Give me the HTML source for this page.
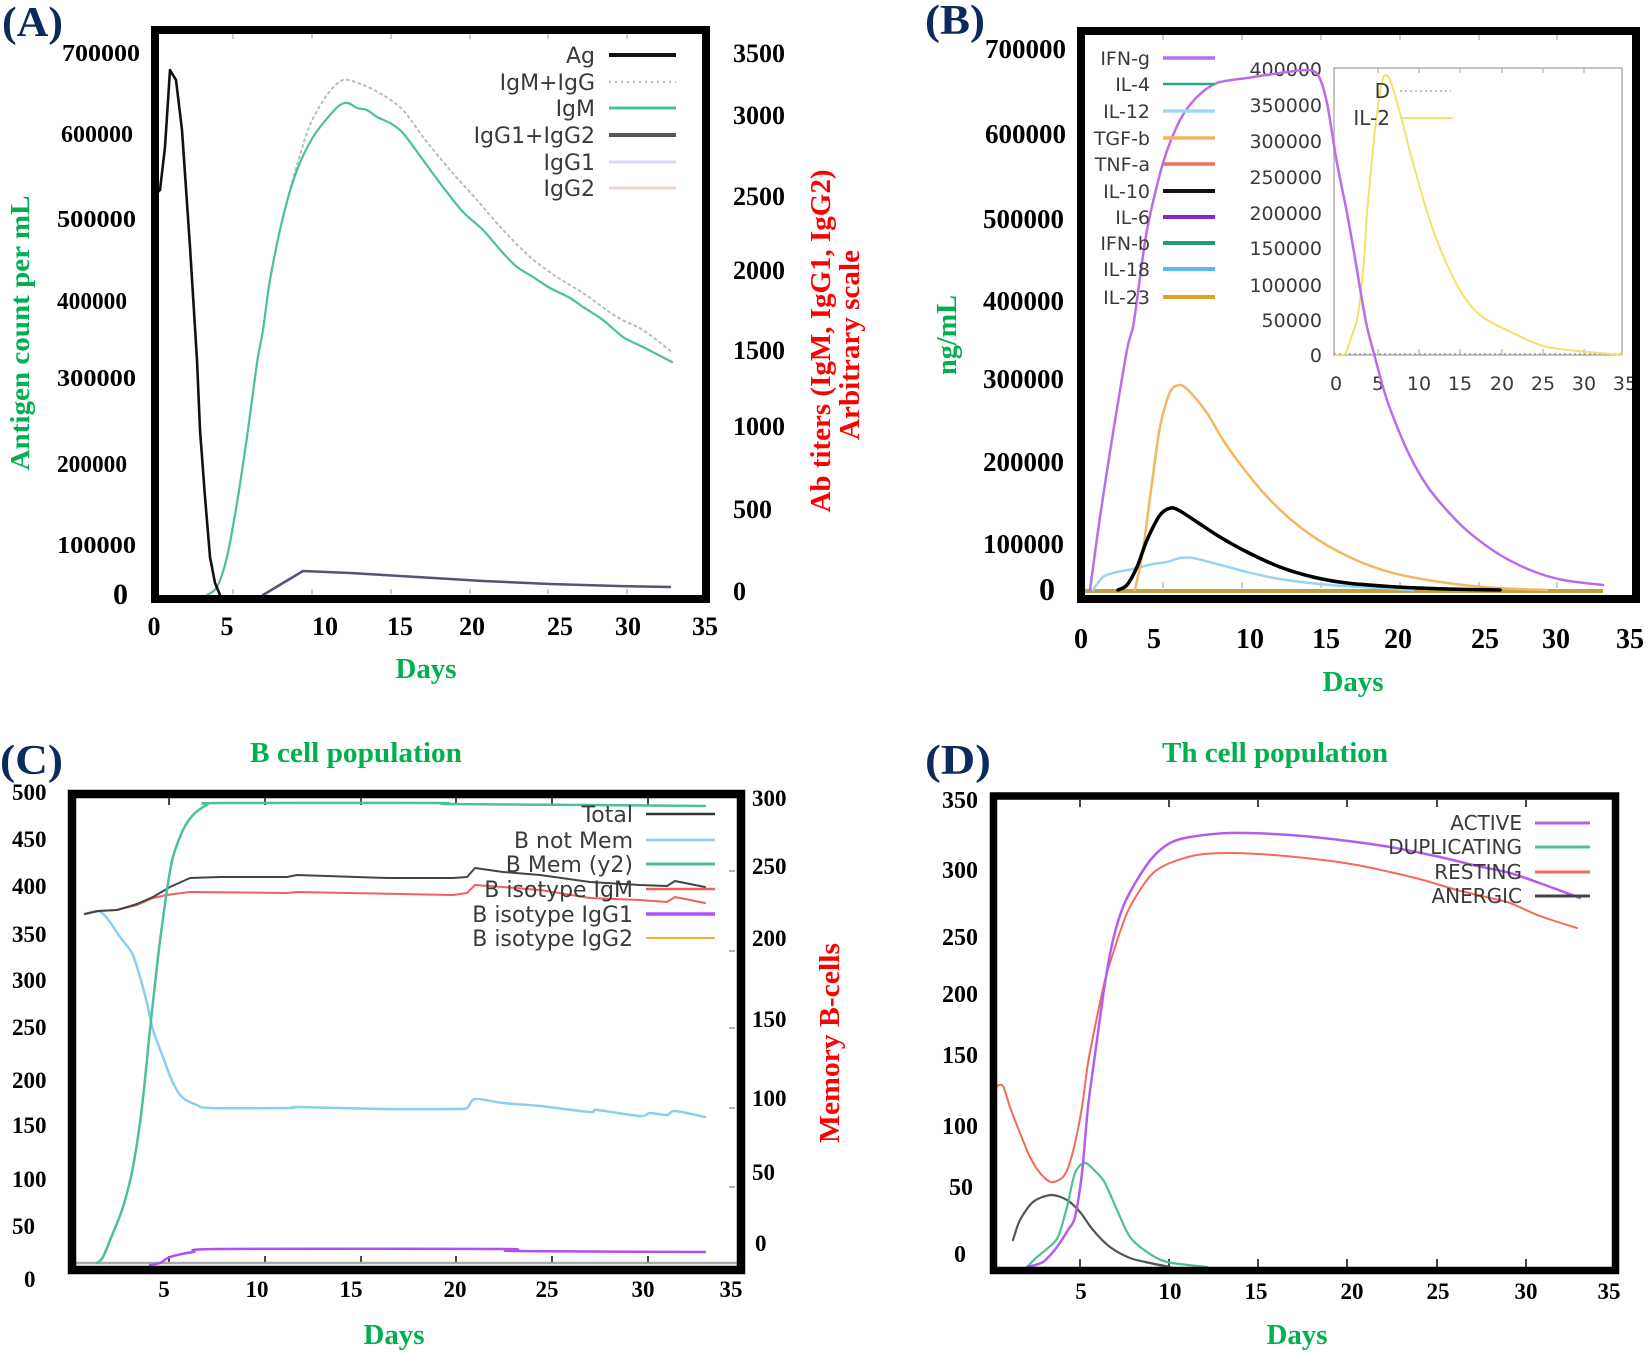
<!DOCTYPE html>
<html><head><meta charset="utf-8"><style>
html,body{margin:0;padding:0;background:#fff;}
svg{display:block;}
.tk{font-family:"Liberation Serif",serif;font-weight:bold;fill:#000;}
.lg{font-family:"DejaVu Sans","Liberation Sans",sans-serif;fill:#3a3a3a;}
.ti{font-family:"Liberation Serif",serif;font-weight:bold;}
.g{fill:#00b050;} .r{fill:#ff0000;} .n{fill:#0d2a5e;}
.c{fill:none;stroke-linejoin:round;stroke-linecap:round;}
</style></head><body>
<svg id="s" width="1650" height="1353" viewBox="0 0 1650 1353" xmlns="http://www.w3.org/2000/svg">
<rect width="1650" height="1353" fill="#fff"/>

<!-- ================= PANEL A ================= -->
<text class="ti n" x="2" y="36" font-size="42" textLength="61" lengthAdjust="spacingAndGlyphs">(A)</text>
<g stroke="#bbb" stroke-width="1.5">
<line x1="233" y1="34" x2="233" y2="39"/><line x1="312" y1="34" x2="312" y2="39"/><line x1="391" y1="34" x2="391" y2="39"/><line x1="470" y1="34" x2="470" y2="39"/><line x1="548" y1="34" x2="548" y2="39"/><line x1="627" y1="34" x2="627" y2="39"/>
<line x1="233" y1="589" x2="233" y2="594"/><line x1="312" y1="589" x2="312" y2="594"/><line x1="391" y1="589" x2="391" y2="594"/><line x1="470" y1="589" x2="470" y2="594"/><line x1="548" y1="589" x2="548" y2="594"/><line x1="627" y1="589" x2="627" y2="594"/>
</g>
<!-- A curves -->
<polyline class="c sm" stroke="#bbbbbb" stroke-width="2" stroke-dasharray="2,4" points="207,595 217,587 227,557 237,503 247,437 257,363 263,330 270,280 283,217 297,165 310,125 327,95 343,80 363,85 383,95 403,110 423,137 450,170 477,200 503,230 530,257 557,277 583,293 617,317 643,330 672,352"/>
<polyline class="c sm" stroke="#4cbf9b" stroke-width="2.2" points="207,595 217,587 227,557 237,503 247,437 257,363 263,330 270,280 283,217 297,170 313,137 330,115 340,105 348,103 357,108 367,110 377,117 390,123 403,133 423,160 443,187 463,212 483,230 503,253 517,267 533,277 550,288 570,298 583,307 603,320 623,337 643,347 672,362"/>
<polyline class="c" stroke="#5d5070" stroke-width="2.5" points="263,595 303,571 350,573 417,577 483,581 550,584 617,586 670,587"/>
<polyline class="c" stroke="#111" stroke-width="2.6" points="158,192 160,190 165,147 170,70 176,80 182,130 190,247 197,360 200,430 205,497 210,557 215,583 220,595"/>
<!-- A legend -->
<g class="lg" font-size="22" text-anchor="end">
<text x="595" y="63">Ag</text><text x="595" y="90">IgM+IgG</text><text x="595" y="116">IgM</text><text x="595" y="143">IgG1+IgG2</text><text x="595" y="170">IgG1</text><text x="595" y="196">IgG2</text>
</g>
<line x1="609" y1="55" x2="676" y2="55" stroke="#111" stroke-width="4"/>
<line x1="609" y1="82" x2="676" y2="82" stroke="#bbb" stroke-width="2" stroke-dasharray="2,4"/>
<line x1="609" y1="108" x2="676" y2="108" stroke="#4cbf9b" stroke-width="3"/>
<line x1="609" y1="135" x2="676" y2="135" stroke="#555" stroke-width="4"/>
<line x1="609" y1="162" x2="676" y2="162" stroke="#e2d2f8" stroke-width="3"/>
<line x1="609" y1="188" x2="676" y2="188" stroke="#f8d2d2" stroke-width="3"/>
<rect x="155" y="30" width="551" height="569" fill="none" stroke="#000" stroke-width="8"/>
<!-- A ticks labels -->
<g class="tk" font-size="24">
<text x="62" y="61" textLength="78" lengthAdjust="spacingAndGlyphs">700000</text><text x="61" y="142" textLength="72" lengthAdjust="spacingAndGlyphs">600000</text><text x="57" y="227" textLength="79" lengthAdjust="spacingAndGlyphs">500000</text><text x="57" y="309" textLength="70" lengthAdjust="spacingAndGlyphs">400000</text><text x="57" y="386" textLength="79" lengthAdjust="spacingAndGlyphs">300000</text><text x="57" y="472" textLength="70" lengthAdjust="spacingAndGlyphs">200000</text><text x="57" y="553" textLength="79" lengthAdjust="spacingAndGlyphs">100000</text>
</g>
<text class="tk" x="113" y="604" font-size="30">0</text>
<g class="tk" font-size="26">
<text x="733" y="62">3500</text><text x="733" y="124">3000</text><text x="733" y="205">2500</text><text x="733" y="279">2000</text><text x="733" y="359">1500</text><text x="733" y="435">1000</text><text x="733" y="518">500</text><text x="733" y="600">0</text>
</g>
<g class="tk" font-size="26" text-anchor="middle">
<text x="154" y="635">0</text><text x="227" y="635">5</text><text x="325" y="635">10</text><text x="400" y="635">15</text><text x="472" y="635">20</text><text x="560" y="635">25</text><text x="628" y="635">30</text><text x="705" y="635">35</text>
</g>
<text class="ti g" x="426" y="678" font-size="28" text-anchor="middle" textLength="61" lengthAdjust="spacingAndGlyphs">Days</text>
<text class="ti g" transform="translate(29,333) rotate(-90)" font-size="27" text-anchor="middle" textLength="275" lengthAdjust="spacingAndGlyphs">Antigen count per mL</text>
<text class="ti r" transform="translate(830,341) rotate(-90)" font-size="28" text-anchor="middle" textLength="343" lengthAdjust="spacingAndGlyphs">Ab titers (IgM, IgG1, IgG2)</text>
<text class="ti r" transform="translate(859,345) rotate(-90)" font-size="28" text-anchor="middle" textLength="190" lengthAdjust="spacingAndGlyphs">Arbitrary scale</text>

<!-- ================= PANEL B ================= -->
<text class="ti n" x="925" y="34" font-size="42" textLength="60" lengthAdjust="spacingAndGlyphs">(B)</text>
<g stroke="#bbb" stroke-width="1.5">
<line x1="1163" y1="35" x2="1163" y2="40"/><line x1="1242" y1="35" x2="1242" y2="40"/><line x1="1321" y1="35" x2="1321" y2="40"/><line x1="1400" y1="35" x2="1400" y2="40"/><line x1="1479" y1="35" x2="1479" y2="40"/><line x1="1557" y1="35" x2="1557" y2="40"/>
<line x1="1163" y1="582" x2="1163" y2="588"/><line x1="1242" y1="582" x2="1242" y2="588"/><line x1="1321" y1="582" x2="1321" y2="588"/><line x1="1400" y1="582" x2="1400" y2="588"/><line x1="1479" y1="582" x2="1479" y2="588"/><line x1="1557" y1="582" x2="1557" y2="588"/>
</g>
<!-- inset -->
<rect x="1334" y="68" width="288" height="287" fill="none" stroke="#b0b0b0" stroke-width="1.5"/>
<line x1="1334" y1="354" x2="1622" y2="354" stroke="#999" stroke-width="1.5" stroke-dasharray="2,3"/>
<g stroke="#b0b0b0" stroke-width="1.2">
<line x1="1378" y1="68" x2="1378" y2="73"/><line x1="1419" y1="68" x2="1419" y2="73"/><line x1="1460" y1="68" x2="1460" y2="73"/><line x1="1502" y1="68" x2="1502" y2="73"/><line x1="1543" y1="68" x2="1543" y2="73"/><line x1="1584" y1="68" x2="1584" y2="73"/>
<line x1="1378" y1="349" x2="1378" y2="355"/><line x1="1419" y1="349" x2="1419" y2="355"/><line x1="1460" y1="349" x2="1460" y2="355"/><line x1="1502" y1="349" x2="1502" y2="355"/><line x1="1543" y1="349" x2="1543" y2="355"/><line x1="1584" y1="349" x2="1584" y2="355"/>
</g>
<polyline class="c sm" stroke="#f2e26a" stroke-width="2" points="1336,355 1345,354 1352,335 1357,320 1360,300 1364,260 1367,213 1371,170 1375,130 1380,92 1384,76 1390,80 1400,113 1413,163 1433,230 1457,285 1480,315 1513,333 1547,347 1600,353 1622,355"/>
<g class="lg" font-size="19" text-anchor="end" fill="#444">
<text x="1322" y="76">400000</text><text x="1322" y="112">350000</text><text x="1322" y="148">300000</text><text x="1322" y="184">250000</text><text x="1322" y="220">200000</text><text x="1322" y="255">150000</text><text x="1322" y="292">100000</text><text x="1322" y="327">50000</text><text x="1322" y="362">0</text>
</g>
<g class="lg" font-size="19" text-anchor="middle" fill="#444">
<text x="1336" y="390">0</text><text x="1378" y="390">5</text><text x="1419" y="390">10</text><text x="1460" y="390">15</text><text x="1502" y="390">20</text><text x="1543" y="390">25</text><text x="1584" y="390">30</text><text x="1625" y="390">35</text>
</g>
<text class="lg" x="1390" y="98" font-size="20" text-anchor="end">D</text>
<text class="lg" x="1390" y="125" font-size="20" text-anchor="end">IL-2</text>
<line x1="1400" y1="91" x2="1451" y2="91" stroke="#aaa" stroke-width="1.5" stroke-dasharray="2,3"/>
<line x1="1402" y1="118" x2="1453" y2="118" stroke="#f2e26a" stroke-width="2"/>
<!-- B curves -->
<line x1="1085" y1="591" x2="1603" y2="591" stroke="#bfa040" stroke-width="4"/>
<polyline class="c sm" stroke="#9ad4f4" stroke-width="2.5" points="1093,590 1103,577 1117,572 1133,569 1153,564 1167,562 1180,558 1193,558 1213,563 1247,572 1280,579 1330,585 1380,588 1413,590"/>
<polyline class="c sm" stroke="#f2b860" stroke-width="2.5" points="1135,590 1143,550 1152,483 1160,427 1170,392 1180,385 1190,392 1207,413 1223,440 1247,473 1273,503 1300,527 1330,547 1363,563 1397,574 1447,583 1497,588 1547,590"/>
<polyline class="c sm" stroke="#000" stroke-width="3.5" points="1118,590 1127,585 1137,567 1147,540 1160,515 1171,508 1180,511 1197,522 1220,537 1247,552 1280,567 1313,577 1347,583 1397,587 1447,589 1500,590"/>
<polyline class="c sm" stroke="#b86ee8" stroke-width="2.5" points="1090,590 1100,517 1113,433 1127,350 1133,327 1137,300 1147,230 1163,163 1180,120 1197,97 1217,83 1247,78 1280,73 1307,70 1318,75 1327,103 1337,163 1347,213 1357,270 1362,300 1367,327 1373,350 1387,400 1407,450 1430,490 1463,527 1497,553 1530,570 1563,580 1603,585"/>
<!-- B legend -->
<g class="lg" font-size="19" text-anchor="end">
<text x="1150" y="65">IFN-g</text><text x="1150" y="91">IL-4</text><text x="1150" y="118">IL-12</text><text x="1150" y="145">TGF-b</text><text x="1150" y="171">TNF-a</text><text x="1150" y="198">IL-10</text><text x="1150" y="224">IL-6</text><text x="1150" y="250">IFN-b</text><text x="1150" y="276">IL-18</text><text x="1150" y="304">IL-23</text>
</g>
<g stroke-width="3.5">
<line x1="1163" y1="58" x2="1215" y2="58" stroke="#b86ee8"/>
<line x1="1163" y1="84" x2="1215" y2="84" stroke="#2da882" stroke-width="2.5"/>
<line x1="1163" y1="111" x2="1215" y2="111" stroke="#a0d8f4"/>
<line x1="1163" y1="138" x2="1215" y2="138" stroke="#f2b660"/>
<line x1="1163" y1="164" x2="1215" y2="164" stroke="#f27060"/>
<line x1="1163" y1="191" x2="1215" y2="191" stroke="#111" stroke-width="4"/>
<line x1="1163" y1="217" x2="1215" y2="217" stroke="#8a22d0" stroke-width="4"/>
<line x1="1163" y1="243" x2="1215" y2="243" stroke="#1f9e70" stroke-width="4"/>
<line x1="1163" y1="269" x2="1215" y2="269" stroke="#5cb8f0" stroke-width="4"/>
<line x1="1163" y1="297" x2="1215" y2="297" stroke="#e0a020" stroke-width="4"/>
</g>
<rect x="1081" y="31" width="555" height="568" fill="none" stroke="#000" stroke-width="8"/>
<g class="tk" font-size="27">
<text x="985" y="58">700000</text><text x="985" y="143">600000</text><text x="983" y="228">500000</text><text x="983" y="310">400000</text><text x="983" y="388">300000</text><text x="983" y="471">200000</text><text x="983" y="553">100000</text>
</g>
<text class="tk" x="1039" y="600" font-size="32">0</text>
<g class="tk" font-size="28" text-anchor="middle">
<text x="1081" y="648">0</text><text x="1154" y="648">5</text><text x="1250" y="648">10</text><text x="1326" y="648">15</text><text x="1398" y="648">20</text><text x="1485" y="648">25</text><text x="1556" y="648">30</text><text x="1630" y="648">35</text>
</g>
<text class="ti g" x="1353" y="691" font-size="28" text-anchor="middle" textLength="61" lengthAdjust="spacingAndGlyphs">Days</text>
<text class="ti g" transform="translate(956,335) rotate(-90)" font-size="28" text-anchor="middle" textLength="80" lengthAdjust="spacingAndGlyphs">ng/mL</text>

<!-- ================= PANEL C ================= -->
<text class="ti n" x="0" y="774" font-size="42" textLength="63" lengthAdjust="spacingAndGlyphs">(C)</text>
<text class="ti g" x="356" y="762" font-size="28" text-anchor="middle" textLength="212" lengthAdjust="spacingAndGlyphs">B cell population</text>
<g stroke="#333" stroke-width="1.8">
<line x1="169" y1="798" x2="169" y2="805"/><line x1="265" y1="798" x2="265" y2="805"/><line x1="361" y1="798" x2="361" y2="805"/><line x1="456" y1="798" x2="456" y2="805"/><line x1="552" y1="798" x2="552" y2="805"/><line x1="648" y1="798" x2="648" y2="805"/>
<line x1="169" y1="1256" x2="169" y2="1264"/><line x1="265" y1="1256" x2="265" y2="1264"/><line x1="361" y1="1256" x2="361" y2="1264"/><line x1="456" y1="1256" x2="456" y2="1264"/><line x1="552" y1="1256" x2="552" y2="1264"/><line x1="648" y1="1256" x2="648" y2="1264"/>
</g>
<g stroke="#999" stroke-width="1.5">
<line x1="729" y1="871" x2="735" y2="871"/><line x1="729" y1="951" x2="735" y2="951"/><line x1="729" y1="1028" x2="735" y2="1028"/><line x1="729" y1="1108" x2="735" y2="1108"/><line x1="729" y1="1187" x2="735" y2="1187"/>
</g>
<line x1="76" y1="1263" x2="737" y2="1263" stroke="#aaa" stroke-width="2.5"/>
<polyline class="c sm" stroke="#8ccef2" stroke-width="2.5" points="85,914 98,911 107,918 120,937 132,953 140,977 147,1003 153,1030 163,1057 173,1083 183,1098 197,1105 210,1108 290,1108 297,1107 383,1109 453,1109 467,1108 475,1099 503,1103 540,1106 590,1112 597,1110 640,1116 650,1113 667,1115 675,1111 705,1117"/>
<polyline class="c" stroke="#f06060" stroke-width="2" points="85,914 98,911 117,910 137,905 153,898 167,895 190,892 287,893 297,892 453,895 467,893 475,885 503,887 540,890 590,898 640,900 667,902 675,897 705,903"/>
<polyline class="c" stroke="#444" stroke-width="2" points="85,914 98,911 117,910 137,904 153,897 170,887 190,878 220,877 287,877 297,875 387,878 453,878 467,877 475,868 503,872 540,875 590,882 640,885 667,886 675,881 705,887"/>
<polyline class="c sm" stroke="#4cc09a" stroke-width="2.5" points="97,1263 103,1257 113,1233 123,1207 133,1167 142,1107 150,1030 158,957 167,890 173,857 183,830 193,815 207,805 220,803 437,803 447,804 590,805 705,806"/>
<polyline class="c sm" stroke="#b050f0" stroke-width="2.5" points="150,1265 160,1263 170,1257 193,1252 220,1249 503,1249 513,1251 705,1252"/>
<g class="lg" font-size="22" text-anchor="end">
<text x="633" y="822">Total</text><text x="633" y="848">B not Mem</text><text x="633" y="872">B Mem (y2)</text><text x="633" y="897">B isotype IgM</text><text x="633" y="922">B isotype IgG1</text><text x="633" y="946">B isotype IgG2</text>
</g>
<line x1="646" y1="814" x2="715" y2="814" stroke="#333" stroke-width="2.5"/>
<line x1="646" y1="840" x2="715" y2="840" stroke="#8ccef2" stroke-width="2.5"/>
<line x1="646" y1="864" x2="715" y2="864" stroke="#4cc09a" stroke-width="3"/>
<line x1="646" y1="889" x2="715" y2="889" stroke="#f06060" stroke-width="2.5"/>
<line x1="646" y1="914" x2="715" y2="914" stroke="#b050f0" stroke-width="3.5"/>
<line x1="646" y1="938" x2="715" y2="938" stroke="#f0b040" stroke-width="2"/>
<rect x="72" y="794" width="669" height="476" fill="none" stroke="#000" stroke-width="8.5"/>
<g class="tk" font-size="23">
<text x="12" y="800">500</text><text x="12" y="847">450</text><text x="12" y="894">400</text><text x="12" y="942">350</text><text x="12" y="988">300</text><text x="12" y="1035">250</text><text x="12" y="1088">200</text><text x="12" y="1133">150</text><text x="12" y="1187">100</text><text x="12" y="1234">50</text><text x="24" y="1287">0</text>
<text x="752" y="806">300</text><text x="752" y="874">250</text><text x="752" y="946">200</text><text x="752" y="1027">150</text><text x="752" y="1106">100</text><text x="752" y="1180">50</text><text x="755" y="1251">0</text>
</g>
<g class="tk" font-size="23" text-anchor="middle">
<text x="164" y="1297">5</text><text x="257" y="1297">10</text><text x="351" y="1297">15</text><text x="455" y="1297">20</text><text x="547" y="1297">25</text><text x="643" y="1297">30</text><text x="731" y="1297">35</text>
</g>
<text class="ti g" x="394" y="1344" font-size="28" text-anchor="middle" textLength="61" lengthAdjust="spacingAndGlyphs">Days</text>
<text class="ti r" transform="translate(839,1043) rotate(-90)" font-size="28" text-anchor="middle" textLength="200" lengthAdjust="spacingAndGlyphs">Memory B-cells</text>

<!-- ================= PANEL D ================= -->
<text class="ti n" x="925" y="774" font-size="42" textLength="66" lengthAdjust="spacingAndGlyphs">(D)</text>
<text class="ti g" x="1275" y="762" font-size="28" text-anchor="middle" textLength="226" lengthAdjust="spacingAndGlyphs">Th cell population</text>
<g stroke="#333" stroke-width="1.8">
<line x1="1080" y1="800" x2="1080" y2="807"/><line x1="1169" y1="800" x2="1169" y2="807"/><line x1="1258" y1="800" x2="1258" y2="807"/><line x1="1347" y1="800" x2="1347" y2="807"/><line x1="1437" y1="800" x2="1437" y2="807"/><line x1="1526" y1="800" x2="1526" y2="807"/>
<line x1="1080" y1="1259" x2="1080" y2="1267"/><line x1="1169" y1="1259" x2="1169" y2="1267"/><line x1="1258" y1="1259" x2="1258" y2="1267"/><line x1="1347" y1="1259" x2="1347" y2="1267"/><line x1="1437" y1="1259" x2="1437" y2="1267"/><line x1="1526" y1="1259" x2="1526" y2="1267"/>
</g>
<polyline class="c sm" stroke="#555" stroke-width="2.2" points="1013,1240 1020,1220 1033,1202 1051,1195 1067,1200 1080,1212 1093,1230 1110,1247 1130,1258 1150,1263 1170,1267"/>
<polyline class="c sm" stroke="#4cc09a" stroke-width="2.2" points="1027,1267 1037,1257 1048,1248 1058,1237 1067,1207 1075,1173 1085,1163 1097,1173 1105,1183 1117,1210 1130,1237 1147,1252 1167,1262 1207,1267"/>
<polyline class="c sm" stroke="#f26a5e" stroke-width="2" points="997,1086 1003,1086 1010,1107 1020,1133 1030,1157 1040,1173 1051,1182 1062,1178 1068,1168 1075,1143 1082,1107 1088,1063 1097,1017 1105,980 1115,947 1127,913 1140,890 1153,873 1170,863 1197,855 1230,853 1273,855 1323,860 1357,865 1390,872 1423,880 1457,890 1490,898 1510,903 1540,916 1577,928"/>
<polyline class="c sm" stroke="#b45cf0" stroke-width="2.5" points="1027,1267 1043,1262 1057,1247 1068,1230 1075,1217 1082,1173 1088,1107 1097,1040 1105,983 1113,940 1123,907 1137,880 1153,857 1170,843 1190,837 1230,833 1290,835 1340,840 1390,847 1440,857 1473,865 1510,873 1545,885 1580,898"/>
<g class="lg" font-size="20" text-anchor="end">
<text x="1522" y="830">ACTIVE</text><text x="1522" y="854">DUPLICATING</text><text x="1522" y="879">RESTING</text><text x="1522" y="903">ANERGIC</text>
</g>
<line x1="1535" y1="823" x2="1590" y2="823" stroke="#b45cf0" stroke-width="3"/>
<line x1="1535" y1="847" x2="1590" y2="847" stroke="#4cc09a" stroke-width="3"/>
<line x1="1535" y1="872" x2="1590" y2="872" stroke="#f26a5e" stroke-width="3"/>
<line x1="1535" y1="896" x2="1590" y2="896" stroke="#444" stroke-width="3"/>
<rect x="993.5" y="796" width="622" height="474.5" fill="none" stroke="#000" stroke-width="7.5"/>
<g class="tk" font-size="24" text-anchor="middle">
<text x="960" y="808">350</text><text x="960" y="878">300</text><text x="960" y="945">250</text><text x="960" y="1002">200</text><text x="960" y="1063">150</text><text x="960" y="1134">100</text><text x="961" y="1195">50</text><text x="960" y="1262">0</text>
</g>
<g class="tk" font-size="23" text-anchor="middle">
<text x="1081" y="1299">5</text><text x="1170" y="1299">10</text><text x="1256" y="1299">15</text><text x="1352" y="1299">20</text><text x="1438" y="1299">25</text><text x="1526" y="1299">30</text><text x="1609" y="1299">35</text>
</g>
<text class="ti g" x="1297" y="1344" font-size="28" text-anchor="middle" textLength="61" lengthAdjust="spacingAndGlyphs">Days</text>
</svg>
<script>
(function(){
  try{
    var ns="http://www.w3.org/2000/svg";
    var pls=document.querySelectorAll("polyline.sm");
    for(var k=0;k<pls.length;k++){
      var pl=pls[k];
      var raw=pl.getAttribute("points").trim().split(/\s+/);
      var p=[];
      for(var i=0;i<raw.length;i++){var a=raw[i].split(",");p.push([+a[0],+a[1]]);}
      if(p.length<3)continue;
      var t=1/7;
      var d="M"+p[0][0]+","+p[0][1];
      for(var i=0;i<p.length-1;i++){
        var p0=p[i>0?i-1:i],p1=p[i],p2=p[i+1],p3=p[i+2<p.length?i+2:i+1];
        var c1x=p1[0]+(p2[0]-p0[0])*t,c1y=p1[1]+(p2[1]-p0[1])*t;
        var c2x=p2[0]-(p3[0]-p1[0])*t,c2y=p2[1]-(p3[1]-p1[1])*t;
        d+=" C"+c1x.toFixed(1)+","+c1y.toFixed(1)+" "+c2x.toFixed(1)+","+c2y.toFixed(1)+" "+p2[0]+","+p2[1];
      }
      var path=document.createElementNS(ns,"path");
      for(var j=0;j<pl.attributes.length;j++){
        var at=pl.attributes[j];
        if(at.name!=="points")path.setAttribute(at.name,at.value);
      }
      path.setAttribute("d",d);
      pl.parentNode.replaceChild(path,pl);
    }
  }catch(e){}
})();
</script>
</body></html>
